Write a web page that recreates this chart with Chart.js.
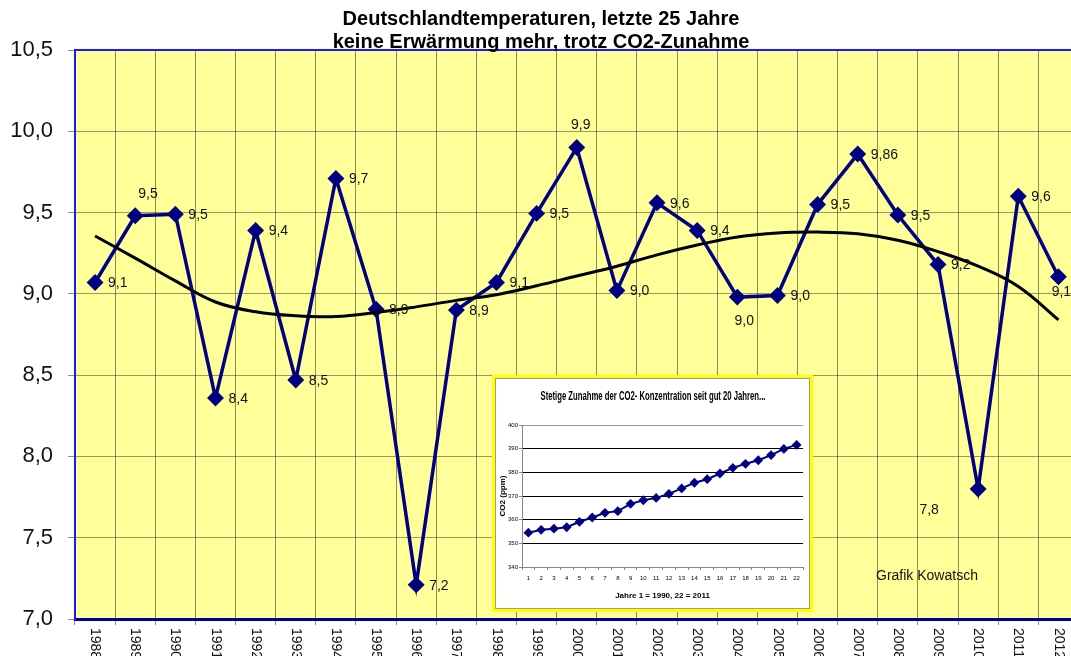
<!DOCTYPE html>
<html>
<head>
<meta charset="utf-8">
<script src="https://cdn.jsdelivr.net/npm/chart.js@4/dist/chart.umd.min.js"></script>
<style>
html, body { margin: 0; padding: 0; overflow: hidden; background: #fff; }
#main { position: absolute; left: 0; top: 0; }
#inset {
    position: absolute; left: 492px; top: 375px; width: 321px; height: 237px;
    box-sizing: border-box; border: 3px solid #ffff00; background: #fff;
}
#insetInner { width: 313px; height: 229px; border: 1px solid #9a9a9a; }
</style>
</head>
<body>
<canvas id="main" width="1088" height="656"></canvas>
<div id="inset"><div id="insetInner"><canvas id="co2" width="313" height="229"></canvas></div></div>
<script>
// Main chart data
const years = ["1988", "1989", "1990", "1991", "1992", "1993", "1994", "1995", "1996", "1997",
    "1998", "1999", "2000", "2001", "2002", "2003", "2004", "2005", "2006", "2007",
    "2008", "2009", "2010", "2011", "2012"];
const temps = [9.07, 9.48, 9.49, 8.36, 9.39, 8.47, 9.71, 8.905, 7.21, 8.90,
    9.07, 9.495, 9.90, 9.02, 9.56, 9.39, 8.98, 8.99, 9.55, 9.86,
    9.485, 9.18, 7.80, 9.60, 9.105];
const tempLabels = ["9,1", "9,5", "9,5", "8,4", "9,4", "8,5", "9,7", "8,9", "7,2", "8,9",
    "9,1", "9,5", "9,9", "9,0", "9,6", "9,4", "9,0", "9,0", "9,5", "9,86",
    "9,5", "9,2", "7,8", "9,6", "9,1"];
const trend = [9.356, 9.22, 9.08, 8.95, 8.89, 8.865, 8.86, 8.885, 8.92, 8.96,
    8.995, 9.05, 9.11, 9.17, 9.24, 9.30, 9.35, 9.375, 9.38, 9.37,
    9.33, 9.26, 9.17, 9.045, 8.84];
const yTicks = [7.0, 7.5, 8.0, 8.5, 9.0, 9.5, 10.0, 10.5];

// Inset chart data
const co2Years = ["1", "2", "3", "4", "5", "6", "7", "8", "9", "10", "11",
    "12", "13", "14", "15", "16", "17", "18", "19", "20", "21", "22"];
const co2 = [354.5, 355.7, 356.2, 356.8, 359.1, 360.9, 362.9, 363.6, 366.7, 368.2, 369.2,
    370.9, 373.2, 375.6, 377.1, 379.5, 381.9, 383.6, 385.1, 387.3, 389.9, 391.6];

// where each value label sits relative to its point
const labelPlace = ["r", "ar", "r", "r", "r", "r", "r", "r", "r", "r",
    "r", "r", "a", "r", "r", "r", "b", "r", "r", "r",
    "r", "r", "bl", "r", "br"];

const FONT = "'Liberation Sans', Arial, sans-serif";

// Yellow plot background
const plotBg = {
    id: "plotBg",
    beforeDraw(chart) {
        const a = chart.chartArea;
        const ctx = chart.ctx;
        ctx.save();
        ctx.fillStyle = "#ffff99";
        ctx.fillRect(a.left, a.top, a.right - a.left, a.bottom - a.top);
        ctx.restore();
    }
};

// Value labels, top border, rotated year labels, titles
const extras = {
    id: "extras",
    afterDatasetsDraw(chart) {
        const ctx = chart.ctx;
        const meta = chart.getDatasetMeta(1);
        ctx.save();
        ctx.font = "14px " + FONT;
        ctx.fillStyle = "#111";
        ctx.textBaseline = "middle";
        meta.data.forEach((pt, i) => {
            const p = labelPlace[i];
            let dx = 13, dy = 1, align = "left";
            if (p === "ar") { dx = 3; dy = -22; }
            else if (p === "a") { dx = 4; dy = -22; align = "center"; }
            else if (p === "b") { dx = 7; dy = 24; align = "center"; }
            else if (p === "bl") { dx = -49; dy = 21; align = "center"; }
            else if (p === "br") { dx = 3; dy = 15; align = "center"; }
            ctx.textAlign = align;
            ctx.fillText(tempLabels[i], pt.x + dx, pt.y + dy);
        });
        ctx.restore();
    },
    afterDraw(chart) {
        const ctx = chart.ctx;
        const a = chart.chartArea;
        ctx.save();
        // top border
        ctx.strokeStyle = "#1a1aff";
        ctx.lineWidth = 2;
        ctx.beginPath();
        ctx.moveTo(a.left, a.top);
        ctx.lineTo(a.right, a.top);
        ctx.stroke();

        // year labels, rotated clockwise
        const xs = chart.scales.x;
        ctx.font = "14px " + FONT;
        ctx.fillStyle = "#111";
        ctx.textAlign = "left";
        ctx.textBaseline = "middle";
        years.forEach((y, i) => {
            ctx.save();
            ctx.translate(xs.getPixelForValue(i), a.bottom + 9);
            ctx.rotate(Math.PI / 2);
            ctx.fillText(y, 0, 0);
            ctx.restore();
        });

        // title
        ctx.font = "bold 20px " + FONT;
        ctx.fillStyle = "#000";
        ctx.textAlign = "center";
        ctx.fillText("Deutschlandtemperaturen, letzte 25 Jahre", 541, 19);
        ctx.fillText("keine Erwärmung mehr, trotz CO2-Zunahme", 541, 42);

        // credit
        ctx.font = "14px " + FONT;
        ctx.fillStyle = "#111";
        ctx.textAlign = "left";
        ctx.fillText("Grafik Kowatsch", 876, 576);
        ctx.restore();
    }
};

new Chart(document.getElementById("main").getContext("2d"), {
    type: "line",
    data: {
        labels: years,
        datasets: [
            {
                label: "Trend",
                data: trend,
                borderColor: "#000",
                borderWidth: 3,
                pointRadius: 0,
                tension: 0.4,
                fill: false,
                order: 0
            },
            {
                label: "Temperatur",
                data: temps,
                borderColor: "#000080",
                backgroundColor: "#000080",
                borderWidth: 3.5,
                pointStyle: "rectRot",
                pointRadius: 6,
                tension: 0,
                fill: false,
                order: 1
            }
        ]
    },
    options: {
        responsive: false,
        animation: false,
        layout: { padding: { top: 50, right: 0, bottom: 0, left: 0 } },
        plugins: {
            legend: { display: false },
            tooltip: { enabled: false }
        },
        scales: {
            x: {
                type: "category",
                offset: true,
                grid: {
                    offset: true,
                    color: "rgba(0,0,0,0.45)",
                    lineWidth: 1,
                    tickLength: 6,
                    tickColor: "rgba(0,0,0,0.45)"
                },
                border: { color: "#0000a0", width: 3 },
                ticks: { display: false },
                afterFit(s) { s.height = 37; }
            },
            y: {
                min: 7,
                max: 10.5,
                afterBuildTicks(s) { s.ticks = yTicks.map(v => ({ value: v })); },
                grid: {
                    color: "rgba(0,0,0,0.4)",
                    lineWidth: 1,
                    tickLength: 7,
                    tickColor: "rgba(0,0,0,0.45)"
                },
                border: { color: "#1a1aff", width: 2 },
                ticks: {
                    padding: 15,
                    color: "#111",
                    font: { family: FONT, size: 22 },
                    callback: v => v.toFixed(1).replace(".", ",")
                },
                afterFit(s) { s.width = 75; }
            }
        }
    },
    plugins: [plotBg, extras]
});

// Inset chart title, squeezed like the pasted picture
const insetTitle = {
    id: "insetTitle",
    afterDraw(chart) {
        const ctx = chart.ctx;
        const txt = "Stetige Zunahme der CO2- Konzentration seit gut 20 Jahren...";
        ctx.save();
        ctx.font = "bold 12px " + FONT;
        ctx.fillStyle = "#000";
        ctx.textAlign = "center";
        ctx.textBaseline = "middle";
        const w = ctx.measureText(txt).width;
        ctx.translate(157, 18);
        ctx.scale(225 / w, 1);
        ctx.fillText(txt, 0, 0);
        ctx.restore();
    }
};

new Chart(document.getElementById("co2").getContext("2d"), {
    type: "line",
    data: {
        labels: co2Years,
        datasets: [{
            data: co2,
            borderColor: "#000080",
            backgroundColor: "#000080",
            borderWidth: 2,
            pointStyle: "rectRot",
            pointRadius: 3.5,
            tension: 0,
            fill: false
        }]
    },
    options: {
        responsive: false,
        animation: false,
        layout: { padding: { top: 46, right: 4, bottom: 0, left: 0 } },
        plugins: {
            legend: { display: false },
            tooltip: { enabled: false }
        },
        scales: {
            x: {
                type: "category",
                offset: true,
                grid: {
                    offset: true,
                    drawOnChartArea: false,
                    tickLength: 3,
                    color: "#888"
                },
                border: { color: "#888", width: 1 },
                ticks: {
                    padding: 5,
                    color: "#000",
                    maxRotation: 0,
                    autoSkip: false,
                    font: { family: FONT, size: 6 }
                },
                title: {
                    display: true,
                    text: "Jahre 1 = 1990, 22 = 2011",
                    color: "#000",
                    font: { family: FONT, size: 8, weight: "bold" },
                    padding: { top: 0, bottom: 7 }
                },
                afterFit(s) { s.height = 41; }
            },
            y: {
                min: 340,
                max: 400,
                ticks: {
                    stepSize: 10,
                    padding: 1,
                    color: "#000",
                    font: { family: FONT, size: 6 }
                },
                grid: {
                    color: ctx => (ctx.tick && (ctx.tick.value === 400 || ctx.tick.value === 340)) ? "#999" : "#000",
                    tickLength: 3,
                    tickColor: "#888"
                },
                border: { color: "#888", width: 1 },
                title: {
                    display: true,
                    text: "CO2 (ppm)",
                    color: "#000",
                    font: { family: FONT, size: 8, weight: "bold" },
                    padding: { top: 2, bottom: 0 }
                },
                afterFit(s) { s.width = 26; }
            }
        }
    },
    plugins: [insetTitle]
});
</script>
</body>
</html>
